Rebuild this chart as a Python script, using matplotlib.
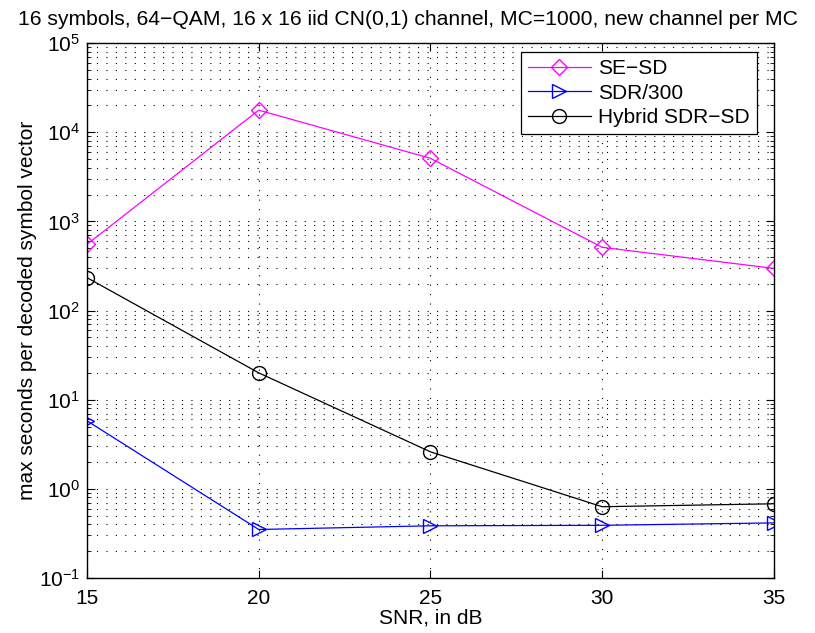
import numpy as np
import matplotlib
matplotlib.use("Agg")
import matplotlib.pyplot as plt
from matplotlib.ticker import LogLocator, NullFormatter

plt.rcParams['font.family'] = ['Liberation Sans', 'DejaVu Sans']
plt.rcParams['mathtext.fontset'] = 'custom'
plt.rcParams['mathtext.rm'] = 'Liberation Sans'
plt.rcParams['mathtext.it'] = 'Liberation Sans:italic'

# SNR (dB)
snr = [15, 20, 25, 30, 35]
# max seconds per decoded symbol vector
se_sd = [552, 17700, 5100, 512, 297]
sdr_300 = [5.8, 0.35, 0.385, 0.39, 0.415]
hybrid = [234, 20, 2.6, 0.63, 0.68]

fig = plt.figure(figsize=(8.15, 6.33), dpi=100)
ax = fig.add_axes([0.1067, 0.0869, 0.843, 0.845])

ax.semilogy(snr, se_sd, color='#ff00ff', marker='D', markersize=8, mfc='none',
            lw=0.9, label='SE\u2212SD')
ax.semilogy(snr, sdr_300, color='#0000ff', marker='>', markersize=10, mfc='none',
            lw=0.9, label='SDR/300')
ax.semilogy(snr, hybrid, color='black', marker='o', markersize=10, mfc='none',
            lw=0.9, label='Hybrid SDR\u2212SD')

ax.set_xlim(15, 35)
ax.set_ylim(1e-1, 1e5)
ax.set_xticks(snr)
ax.yaxis.set_major_locator(LogLocator(base=10, numticks=10))
ax.yaxis.set_minor_locator(LogLocator(base=10, subs=np.arange(2, 10), numticks=10))
ax.yaxis.set_minor_formatter(NullFormatter())

dots = (0, (1, 7.5))
ax.grid(True, which='major', linestyle=dots, color='black', lw=0.8)
ax.grid(True, which='minor', axis='y', linestyle=dots, color='black', lw=0.8)
ax.tick_params(which='both', direction='in', top=True, right=True, labelsize=15)
ax.tick_params(which='major', length=6)
ax.tick_params(which='minor', length=3)
ax.tick_params(axis='x', pad=8)
ax.tick_params(axis='y', pad=5)
for s in ax.spines.values():
    s.set_linewidth(1.0)

ax.set_xlabel('SNR, in dB', fontsize=15, labelpad=0)
ax.set_ylabel('max seconds per decoded symbol vector', fontsize=15, labelpad=1)
# title is centred on the figure, not on the axes
fig.text(0.5, 1 - 25 / 633,
         '16 symbols, 64\u2212QAM, 16 x 16 iid CN(0,1) channel, MC=1000, new channel per MC',
         fontsize=15.2, ha='center', va='baseline')

leg = ax.legend(loc='upper right', bbox_to_anchor=(0.975, 0.983), borderaxespad=0,
                fontsize=15, fancybox=False, framealpha=1, edgecolor='black',
                handlelength=3.0, handletextpad=0.35, labelspacing=0.25,
                borderpad=0.35)
leg.get_frame().set_linewidth(0.9)

plt.savefig('out.png', dpi=100)
